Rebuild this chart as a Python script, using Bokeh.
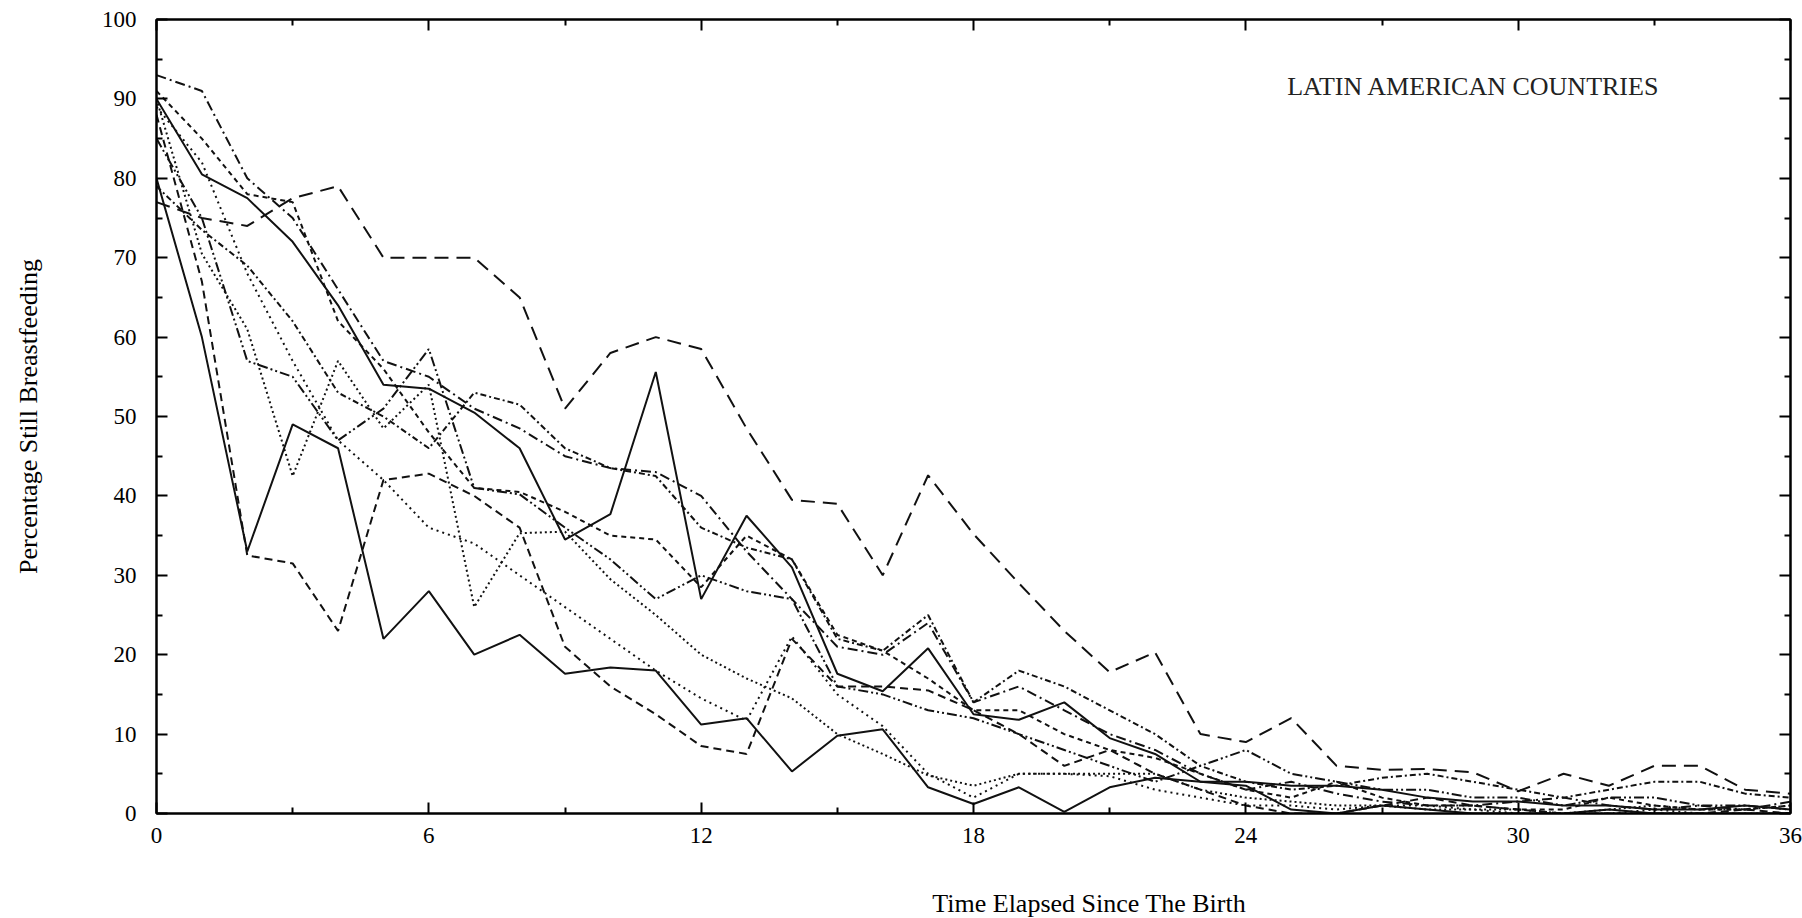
from bokeh.plotting import figure
from bokeh.models import LinearAxis, Label, FixedTicker, Range1d
from bokeh.embed import file_html
from bokeh.resources import INLINE

months = list(range(0, 37))

s1 = [93, 91, 80, 75, 66, 57, 55, 51, 48.5, 45, 43.5, 43, 40, 33, 27, 21, 20, 24, 14, 16, 13, 10, 8, 5, 3, 4, 2.5, 1.5, 1, 1, 1.5, 2, 1, 0.5, 1, 0.5, 1.5]
s2 = [90, 80.5, 77.5, 72, 64, 54, 53.5, 50.5, 46, 34.5, 37.7, 55.6, 27, 37.5, 31, 17.6, 15.4, 20.8, 12.5, 11.8, 14, 9.5, 7.5, 4, 4, 3.5, 3.5, 3, 2, 1.5, 1.5, 1, 1, 0.5, 0.5, 1, 0.5]
s3 = [77, 75, 74, 77.5, 79, 70, 70, 70, 65, 51, 58, 60, 58.5, 48.5, 39.5, 39, 30, 42.6, 35.2, 29, 23, 17.8, 20.3, 10, 9, 12, 6, 5.5, 5.6, 5.2, 2.8, 5, 3.5, 6, 6, 3, 2.5]
s4 = [80, 60, 33, 49, 46, 22, 28, 20, 22.5, 17.6, 18.4, 18, 11.2, 12, 5.3, 9.8, 10.6, 3.3, 1.2, 3.3, 0.2, 3.3, 4.5, 4, 3.5, 0.5, 0, 1, 0.5, 0, 0, 0, 0.5, 0, 0, 0, 0]
s5 = [90, 70.5, 61, 42.5, 57, 48.5, 54, 26, 35.3, 35.5, 29.5, 25, 20, 17, 14.5, 10, 7.5, 4.8, 3.5, 5, 5, 5, 5, 3, 2, 1.5, 1, 1, 0.5, 0.5, 0.5, 0, 0.5, 1, 0.5, 0.5, 1]
s6 = [88, 67, 32.5, 31.5, 23, 42, 42.8, 40, 36, 21, 16, 12.5, 8.5, 7.5, 22, 16, 16, 15.5, 13, 10, 6, 8, 5, 3, 1, 0, 0, 1, 2, 1, 0.5, 0, 0, 0, 0, 0.5, 0]
s7 = [79, 73.5, 69, 62, 53, 50, 46, 53, 51.5, 46, 43.5, 42.5, 36, 33.5, 32, 22, 20.5, 25, 14, 18, 16, 13, 10, 6, 4, 3, 3.5, 4.5, 5, 4, 3, 2, 3, 4, 4, 2.5, 2]
s8 = [89, 82, 68, 57, 47, 42, 36, 34, 30, 26, 22, 18, 14.5, 11.7, 22.3, 15, 11, 5, 2, 5, 5, 4.7, 3, 2, 1, 1, 0.5, 1, 1, 0.5, 0, 0, 0, 0.5, 0, 0, 0]
s9 = [91, 85, 78, 77, 62, 56, 48, 41, 40.5, 38, 35, 34.5, 28.5, 35, 32, 22.5, 20.5, 17, 13, 13, 10, 8, 7, 5, 3, 2, 4, 2, 1, 1, 0.5, 0.5, 2, 1, 0.5, 0.5, 1]
s10 = [85, 75, 57, 55, 47, 51, 58.5, 41, 40.2, 36, 32, 27, 30, 28, 27, 16, 15, 13, 12, 10, 8, 6, 4, 6, 8, 5, 4, 3, 3, 2, 2, 1, 2, 2, 1, 1, 0.5]

series = [s1, s2, s3, s4, s5, s6, s7, s8, s9, s10]
dashes = ["10 4 2 4", "solid", "14 8", "solid", "2 3", "8 5", "6 3 2 3", "2 4", "5 4", "10 3 2 3 2 3"]

x_ticks = [0, 6, 12, 18, 24, 30, 36]
x_minor = [3, 9, 15, 21, 27, 33]
y_ticks = [0, 10, 20, 30, 40, 50, 60, 70, 80, 90, 100]
y_minor = [5, 15, 25, 35, 45, 55, 65, 75, 85, 95]

title_text = "LATIN AMERICAN COUNTRIES"
x_label = "Time Elapsed Since The Birth"
y_label = "Percentage Still Breastfeeding"

FONT = "Liberation Serif"

p = figure(width=1802, height=918, output_backend="svg", toolbar_location=None,
           x_range=Range1d(0, 36), y_range=Range1d(0, 100),
           min_border_left=156, min_border_right=12, min_border_top=19, min_border_bottom=105,
           x_axis_location=None, y_axis_location=None)
p.grid.visible = False
p.outline_line_color = "black"
p.outline_line_width = 2
p.background_fill_color = "white"
p.border_fill_color = "white"

def style_axis(ax, show_labels, ticks):
    ax.axis_line_color = "black"
    ax.axis_line_width = 2
    ax.major_tick_in = 11
    ax.major_tick_out = 0
    ax.minor_tick_in = 6
    ax.minor_tick_out = 0
    ax.major_tick_line_width = 2
    ax.minor_tick_line_width = 2
    ax.major_tick_line_color = "black"
    ax.minor_tick_line_color = "black"
    ax.major_label_text_font = FONT
    ax.major_label_text_font_size = "23px"
    ax.major_label_text_color = "black"
    if not show_labels:
        ax.major_label_overrides = {t: "" for t in ticks}
        ax.major_label_standoff = 0

xb = LinearAxis(ticker=FixedTicker(ticks=x_ticks, minor_ticks=x_minor))
style_axis(xb, True, x_ticks)
xb.major_label_standoff = 14
p.add_layout(xb, "below")

yl = LinearAxis(ticker=FixedTicker(ticks=y_ticks, minor_ticks=y_minor))
style_axis(yl, True, y_ticks)
yl.major_label_standoff = 20
yl.axis_label = y_label
yl.axis_label_text_font = FONT
yl.axis_label_text_font_size = "26px"
yl.axis_label_text_font_style = "normal"
yl.axis_label_text_color = "black"
yl.axis_label_standoff = 56
p.add_layout(yl, "left")

xa = LinearAxis(ticker=FixedTicker(ticks=x_ticks, minor_ticks=x_minor))
style_axis(xa, False, x_ticks)
p.add_layout(xa, "above")

yr = LinearAxis(ticker=FixedTicker(ticks=y_ticks, minor_ticks=y_minor))
style_axis(yr, False, y_ticks)
p.add_layout(yr, "right")

for s, d in zip(series, dashes):
    p.line(months, s, line_color="#111111", line_width=2, line_dash=d)

p.add_layout(Label(x=24.91, y=91.5, text=title_text, text_font=FONT, text_font_size="26px",
                   text_color="#222222", text_align="left", text_baseline="middle"))

p.add_layout(Label(x=20.55, y=-11.3, text=x_label, text_font=FONT, text_font_size="26px",
                   text_color="black", text_align="center", text_baseline="middle"), "below")

open("out.html", "w").write(file_html(p, INLINE))
